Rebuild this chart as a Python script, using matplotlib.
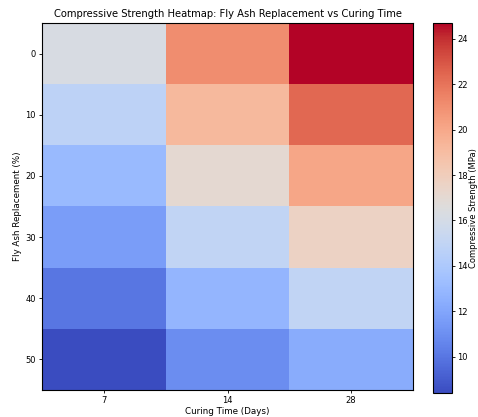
import numpy as np
import matplotlib
matplotlib.use('Agg')
import matplotlib.pyplot as plt

fly_ash = [0, 10, 20, 30, 40, 50]
curing_days = [7, 14, 28]
# compressive strength (MPa), rows = fly ash %, cols = curing days
strength = np.array([
    [16.2, 21.1, 24.7],
    [14.8, 19.2, 22.4],
    [13.1, 17.0, 20.1],
    [11.6, 15.0, 17.6],
    [10.0, 12.8, 15.0],
    [8.4, 10.9, 12.3],
])

fig = plt.figure(figsize=(4.78, 4.17), dpi=100)
ax = fig.add_axes([42/478, 27/417, 371/478, 367/417])
cax = fig.add_axes([433/478, 24/417, 19/478, 370/417])

im = ax.imshow(strength, cmap='coolwarm', aspect='auto')
ax.set_xticks(range(len(curing_days)))
ax.set_xticklabels(curing_days)
ax.set_yticks(range(len(fly_ash)))
ax.set_yticklabels(fly_ash)
ax.tick_params(labelsize=6, length=2.5, width=0.6, pad=2)
ax.set_xlabel('Curing Time (Days)', fontsize=6.3, labelpad=1)
ax.set_ylabel('Fly Ash Replacement (%)', fontsize=6.3, labelpad=2)
ax.set_title('Compressive Strength Heatmap: Fly Ash Replacement vs Curing Time', fontsize=7.2, pad=4)

cb = fig.colorbar(im, cax=cax)
cb.ax.tick_params(labelsize=6, length=2.5, width=0.6, pad=1.5)
cb.set_label('Compressive Strength (MPa)', fontsize=6, labelpad=0.5)

fig.savefig('out.png', dpi=100)
